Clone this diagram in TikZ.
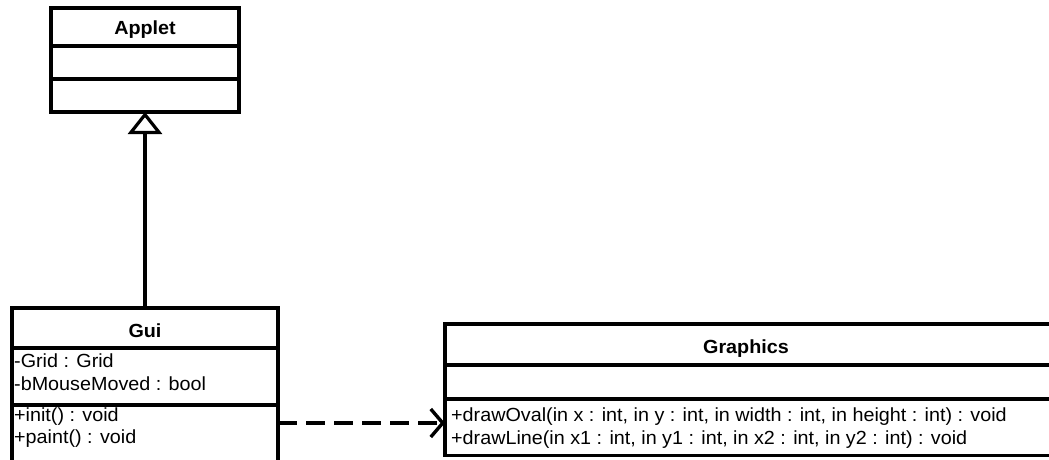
\documentclass[tikz,border=0pt]{standalone}
\usepackage{fontspec}
\setmainfont{Liberation Sans}[FakeStretch=1.04]
\usetikzlibrary{arrows.meta}

\begin{document}
\begin{tikzpicture}[x=1pt,y=-1pt,
  comp/.style={draw, line width=3.2pt, rectangle, inner sep=0pt, outer sep=0pt, anchor=north west},
  title/.style={inner sep=0pt, anchor=base, font=\fontsize{19}{23}\selectfont\bfseries},
  member/.style={inner sep=0pt, anchor=base west, font=\fontsize{19}{23}\selectfont},
  inherit/.style={line width=3.2pt, -{Triangle[open, length=22pt 0 0, width=34pt 0 0, line width=3.2pt]}},
  depend/.style={line width=4.8pt, dash pattern=on 19pt off 9pt,
    -{Straight Barb[length=12pt 0 0, width=28pt 0 0, line width=3.4pt]}}]
\useasboundingbox (0,0) rectangle (1049,459);
\clip (0,0) rectangle (1049,459);

% class Applet
\node[comp, minimum width=188pt, minimum height=38pt] (appletHead) at (51,8) {};
\node[comp, minimum width=188pt, minimum height=33pt] (appletAttr) at (51,46) {};
\node[comp, minimum width=188pt, minimum height=33pt] (appletOps) at (51,79) {};
\node[title] (appletName) at (145,34) {Applet};

% class Gui
\node[comp, minimum width=266pt, minimum height=40pt] (guiHead) at (12,308) {};
\node[comp, minimum width=266pt, minimum height=57pt] (guiAttr) at (12,348) {};
\node[comp, minimum width=266pt, minimum height=70pt] (guiOps) at (12,405) {};
\node[title] (guiName) at (145,337) {Gui};
\node[member] (guiA1) at (14,367.5) {-Grid : Grid};
\node[member] (guiA2) at (14,390) {-bMouseMoved : bool};
\node[member] (guiO1) at (14,421.5) {+init() : void};
\node[member] (guiO2) at (14,443) {+paint() : void};

% class Graphics
\node[comp, minimum width=620pt, minimum height=41pt] (gfxHead) at (445,324) {};
\node[comp, minimum width=620pt, minimum height=34pt] (gfxAttr) at (445,365) {};
\node[comp, minimum width=620pt, minimum height=56.5pt] (gfxOps) at (445,399) {};
\node[title] (gfxName) at (746,353) {Graphics};
\node[member] (gfxO1) at (451,421.5) {+drawOval(in x : int, in y : int, in width : int, in height : int) : void};
\node[member] (gfxO2) at (451,444) {+drawLine(in x1 : int, in y1 : int, in x2 : int, in y2 : int) : void};

% Gui extends Applet
\draw[inherit] (guiHead.north) -- (appletOps.south);

% Gui uses Graphics
\coordinate (depStart) at ([yshift=-18pt]guiOps.north east);
\draw[depend] (depStart) -- (gfxOps.west |- depStart);
\end{tikzpicture}
\end{document}
